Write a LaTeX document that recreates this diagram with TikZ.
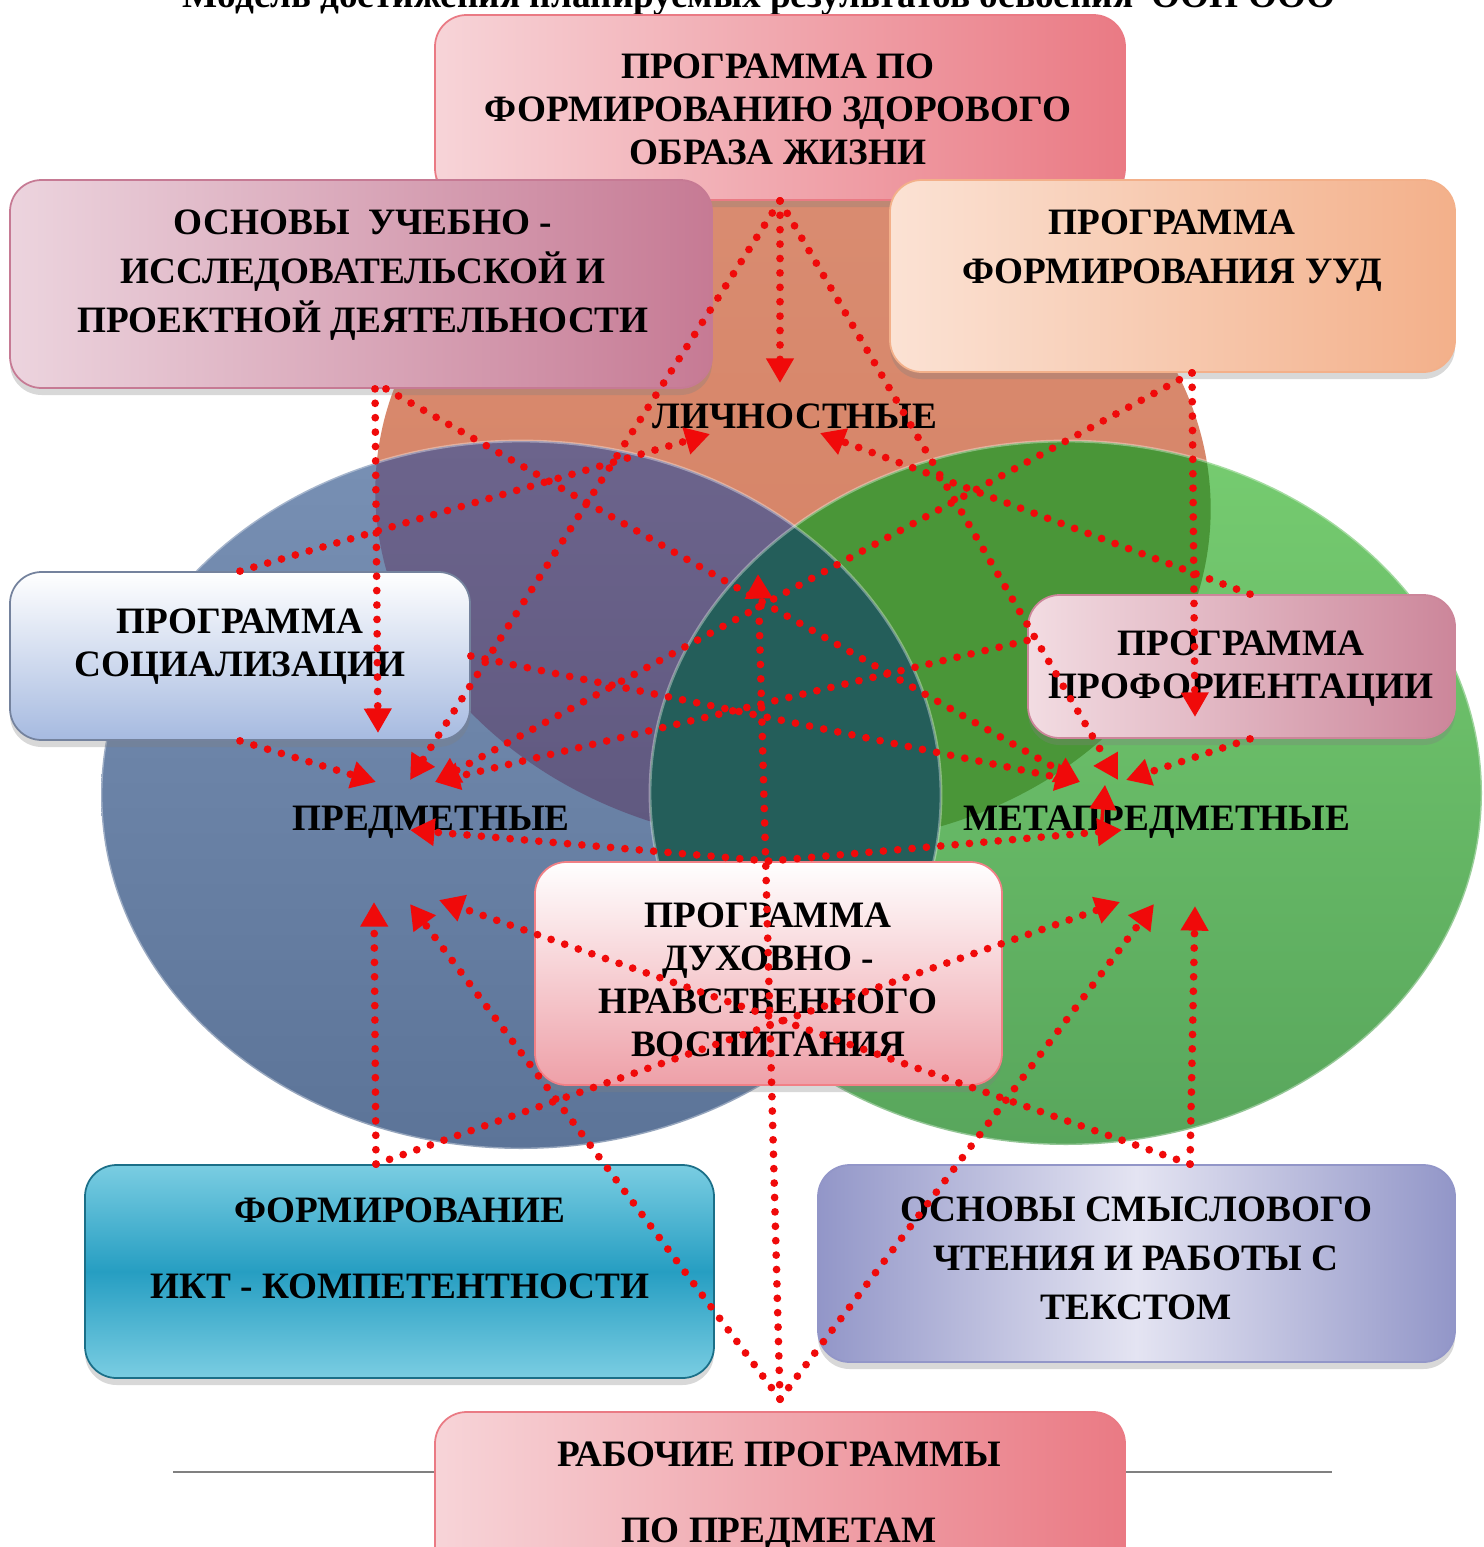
\documentclass[tikz,border=0pt]{standalone}
\usepackage{fontspec}
\setmainfont{Liberation Serif}
\usetikzlibrary{arrows.meta,shadows}

\definecolor{lichnC}{RGB}{213,128,98}
\definecolor{predmA}{RGB}{120,144,180}
\definecolor{predmB}{RGB}{92,116,152}
\definecolor{metaA}{RGB}{118,204,112}
\definecolor{metaB}{RGB}{88,166,92}
\definecolor{lpA}{RGB}{108,100,140}
\definecolor{lpB}{RGB}{86,80,118}
\definecolor{lmC}{RGB}{74,150,56}
\definecolor{pmC}{RGB}{36,94,90}
\definecolor{linkC}{RGB}{240,10,10}
\definecolor{zozhL}{RGB}{247,212,216}
\definecolor{zozhR}{RGB}{234,122,132}
\definecolor{isslL}{RGB}{236,212,222}
\definecolor{isslR}{RGB}{198,122,148}
\definecolor{uudL}{RGB}{251,226,212}
\definecolor{uudR}{RGB}{243,176,138}
\definecolor{socB}{RGB}{166,186,224}
\definecolor{profL}{RGB}{242,220,226}
\definecolor{profR}{RGB}{204,134,154}
\definecolor{dukhB}{RGB}{238,160,168}
\definecolor{iktA}{RGB}{122,205,226}
\definecolor{iktB}{RGB}{38,158,194}
\definecolor{smyslA}{RGB}{146,150,200}
\definecolor{smyslB}{RGB}{228,228,242}

\tikzset{
  box/.style={rounded corners=9pt, line width=0.5pt, inner sep=0pt,
    drop shadow={shadow xshift=0pt, shadow yshift=-0.7mm, opacity=0.3}},
  txt/.style={font=\bfseries\fontsize{10.6}{12.2}\selectfont, align=center, inner sep=0pt},
  lbl/.style={font=\bfseries\fontsize{10.6}{12.2}\selectfont, inner sep=0pt, anchor=base},
  link/.style={draw=linkC, line width=2.2pt, dash pattern=on 0pt off 4.1pt, line cap=round,
    -{Triangle[length=7pt,width=7.5pt]}}
}

\begin{document}
\begin{tikzpicture}
  \useasboundingbox (0,0) rectangle (14.83,-15.47);
  \fill[white] (0,0) rectangle (14.83,-15.47);
  \node[lbl] (title) at (7.59,-0.075) {Модель достижения планируемых результатов освоения~ ООП ООО};

  % three circles
  \shade[top color=lichnC!90!white, bottom color=lichnC, rotate around={-4:(7.93,-5.0)}]
    (7.93,-5.0) ellipse [x radius=4.18, y radius=3.45];
  \shade[top color=predmA, bottom color=predmB] (5.21,-7.95) ellipse [x radius=4.20, y radius=3.54];
  \shade[top color=metaA, bottom color=metaB] (10.66,-7.93) ellipse [x radius=4.16, y radius=3.52];
  \begin{scope}
    \clip[rotate around={-4:(7.93,-5.0)}] (7.93,-5.0) ellipse [x radius=4.18, y radius=3.45];
    \shade[top color=lpA, bottom color=lpB] (5.21,-7.95) ellipse [x radius=4.20, y radius=3.54];
    \fill[lmC] (10.66,-7.93) ellipse [x radius=4.16, y radius=3.52];
  \end{scope}
  \begin{scope}
    \clip (5.21,-7.95) ellipse [x radius=4.20, y radius=3.54];
    \fill[pmC] (10.66,-7.93) ellipse [x radius=4.16, y radius=3.52];
  \end{scope}
  \draw[white, opacity=0.35, line width=0.8pt] (5.21,-7.95) ellipse [x radius=4.20, y radius=3.54];
  \draw[white, opacity=0.35, line width=0.8pt] (10.66,-7.93) ellipse [x radius=4.16, y radius=3.52];

  \draw[gray, line width=0.7pt] (1.73,-14.72) -- (13.32,-14.72);

  % boxes
  \node[box, draw=zozhR, left color=zozhL, right color=zozhR,
    minimum width=6.90cm, minimum height=1.85cm] (zozh) at (7.80,-1.075) {};
  \node[box, draw=isslR, left color=isslL, right color=isslR,
    minimum width=7.02cm, minimum height=2.08cm] (issl) at (3.61,-2.84) {};
  \node[box, draw=uudR, left color=uudL, right color=uudR,
    minimum width=5.65cm, minimum height=1.92cm] (uud) at (11.725,-2.76) {};
  \node[box, draw=socB!70!black, top color=white, bottom color=socB,
    minimum width=4.60cm, minimum height=1.68cm] (soc) at (2.40,-6.56) {};
  \node[box, draw=profR, left color=profL, right color=profR,
    minimum width=4.27cm, minimum height=1.43cm] (prof) at (12.415,-6.665) {};
  \node[box, draw=dukhB!80!red, top color=white, bottom color=dukhB,
    minimum width=4.67cm, minimum height=2.23cm] (dukh) at (7.685,-9.735) {};
  \node[box, draw=iktB!70!black, top color=iktA, bottom color=iktA, middle color=iktB,
    minimum width=6.29cm, minimum height=2.13cm] (ikt) at (3.995,-12.715) {};
  \node[box, draw=smyslA, left color=smyslA, right color=smyslA, middle color=smyslB,
    minimum width=6.37cm, minimum height=1.97cm] (smysl) at (11.365,-12.635) {};
  \node[box, draw=zozhR, left color=zozhL, right color=zozhR,
    minimum width=6.90cm, minimum height=1.76cm] (rab) at (7.80,-15.00) {};

  % texts
  \node[txt] (zozh-t) at (7.78,-1.09) {ПРОГРАММА ПО\\ФОРМИРОВАНИЮ ЗДОРОВОГО\\ОБРАЗА ЖИЗНИ};
  \node[txt] (issl-t) at (3.63,-2.75) {ОСНОВЫ~ УЧЕБНО -\\[1.7pt]ИССЛЕДОВАТЕЛЬСКОЙ И\\[1.7pt]ПРОЕКТНОЙ ДЕЯТЕЛЬНОСТИ};
  \node[txt] (uud-t) at (11.72,-2.505) {ПРОГРАММА\\[1.7pt]ФОРМИРОВАНИЯ УУД};
  \node[txt] (soc-t) at (2.40,-6.47) {ПРОГРАММА\\СОЦИАЛИЗАЦИИ};
  \node[txt] (prof-t) at (12.41,-6.69) {ПРОГРАММА\\ПРОФОРИЕНТАЦИИ};
  \node[txt] (dukh-t) at (7.68,-9.80) {ПРОГРАММА\\ДУХОВНО -\\НРАВСТВЕННОГО\\ВОСПИТАНИЯ};
  \node[txt] (ikt-t) at (4.00,-12.48) {ФОРМИРОВАНИЕ\\[9.4pt]ИКТ - КОМПЕТЕНТНОСТИ};
  \node[txt] (smysl-t) at (11.36,-12.58) {ОСНОВЫ СМЫСЛОВОГО\\[1.7pt]ЧТЕНИЯ И РАБОТЫ С\\[1.7pt]ТЕКСТОМ};
  \node[txt] (rab-t) at (7.79,-14.96) {РАБОЧИЕ ПРОГРАММЫ\\[9.4pt]ПО ПРЕДМЕТАМ};

  % results
  \node[lbl] (lichn) at (7.95,-4.28) {ЛИЧНОСТНЫЕ};
  \node[lbl] (predm) at (4.31,-8.30) {ПРЕДМЕТНЫЕ};
  \node[lbl] (meta) at (11.57,-8.30) {МЕТАПРЕДМЕТНЫЕ};

  % arrow ends
  \coordinate (l1) at (7.80,-3.83);
  \coordinate (l2) at (7.10,-4.34);
  \coordinate (l3) at (8.20,-4.33);
  \coordinate (l4) at (7.58,-5.74);
  \coordinate (p1) at (3.78,-7.33);
  \coordinate (p2) at (3.76,-7.82);
  \coordinate (p3) at (4.10,-7.80);
  \coordinate (p4) at (4.35,-7.82);
  \coordinate (p5) at (4.10,-8.30);
  \coordinate (p6) at (3.74,-9.02);
  \coordinate (p7) at (4.10,-9.04);
  \coordinate (p8) at (4.39,-9.00);
  \coordinate (m1) at (11.95,-7.17);
  \coordinate (m2) at (10.80,-7.82);
  \coordinate (m3) at (11.18,-7.80);
  \coordinate (m4) at (11.26,-7.80);
  \coordinate (m5s) at (11.00,-8.43);
  \coordinate (m5) at (11.05,-7.85);
  \coordinate (m6) at (11.22,-8.30);
  \coordinate (m7) at (11.20,-9.02);
  \coordinate (m8) at (11.54,-9.04);
  \coordinate (m9) at (11.95,-9.06);

  \begin{scope}[link]
    \draw (zozh.south) to (l1);
    \draw (zozh.south) to (p3);
    \draw (zozh.south) to (m3);
    \draw ([xshift=1.4mm]issl.south) to (p1);
    \draw ([xshift=2.5mm]issl.south) to (m2);
    \draw ([xshift=1.95mm]uud.south) to (m1);
    \draw ([xshift=1.95mm]uud.south) to (p4);
    \draw (soc.north) to (l2);
    \draw (soc.south) to (p2);
    \draw (soc.east) to (m2);
    \draw ([xshift=0.85mm]prof.north) to (l3);
    \draw ([yshift=2.6mm]prof.west) to (p4);
    \draw ([xshift=0.85mm]prof.south) to (m4);
    \draw (dukh.north) to (p5);
    \draw (dukh.north) to (m6);
    \draw[solid, line width=1pt] (m5s) to (m5);
    \draw ([xshift=-2.35mm]ikt.north) to (p6);
    \draw ([xshift=-2.35mm]ikt.north) to (m7);
    \draw ([xshift=5.35mm]smysl.north) to (m9);
    \draw ([xshift=5.35mm]smysl.north) to (p8);
    \draw ([yshift=1.2mm]rab.north) to (l4);
    \draw ([yshift=1.2mm]rab.north) to (p7);
    \draw ([yshift=1.2mm]rab.north) to (m8);
  \end{scope}
\end{tikzpicture}
\end{document}
